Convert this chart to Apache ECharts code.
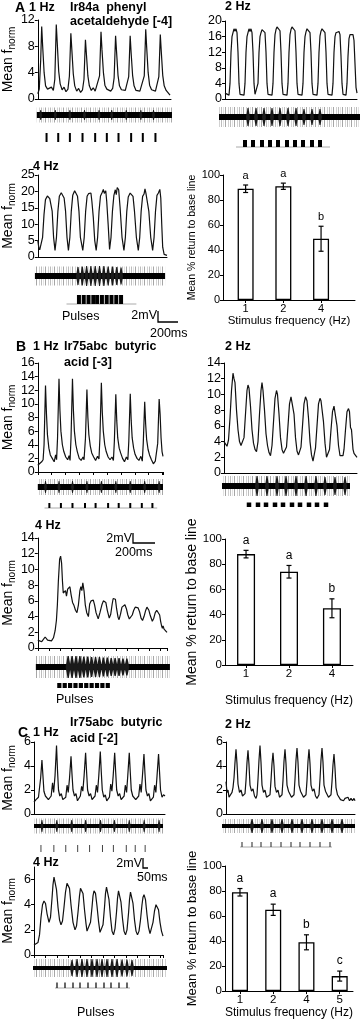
<!DOCTYPE html>
<html>
<head>
<meta charset="utf-8">
<script src="https://cdn.jsdelivr.net/npm/echarts@6/dist/echarts.min.js"></script>
<style>
  html, body { margin: 0; padding: 0; background: #fff; }
  #chart { width: 360px; height: 1020px; }
</style>
</head>
<body>
<div id="chart"></div>
<script>
// ---------- data (t = time in plot units, y = Mean f_norm) ----------

// A: Ir84a, phenyl acetaldehyde [-4]
const a1Trace = [[0,0.8],[1.5,1.5],[3,6],[4,11],[5,8],[6.5,4],[8,2],[10,1.5],[12,1.2],[14,1.8],[16,1.3],[17.5,3],[19,11.3],[20,8.5],[21.5,4.2],[23,2.3],[25,1.4],[27,1.8],[29,1.1],[31,1.5],[32.5,3.5],[34,10],[35,7.5],[36.5,3.8],[38,2],[40,1.2],[42,1.6],[44,1],[46,1.4],[47.5,3],[49,9],[50,6.8],[51.5,3.5],[53,2],[55,1.3],[57,1.7],[59,1.2],[61,1.5],[63.5,3.5],[65,10.2],[66,7.5],[67.5,4],[69,2.1],[71,1.5],[73,1.8],[75,1.2],[77,1.6],[78.5,3.2],[80,9.6],[81,7.2],[82.5,3.6],[84,2],[86,1.4],[88,1.7],[90,1.3],[92,1.5],[93.5,3.4],[95,9.6],[96,7],[97.5,3.6],[99,2],[101,1.3],[103,1.6],[105,1.2],[107,1.5],[109.5,3.5],[111,10.6],[112,7.8],[113.5,4],[115,2.1],[117,1.4],[119,1.7],[121,1.2],[123,1.5],[124.5,3.4],[126,9.8],[127,7.2],[128.5,3.6],[130,2],[132,1.3],[134,1.0],[136,0.6]];
const a1Raster = [-1, 138];
const a1Bursts = [[3,5],[18,5],[33,5],[48,5],[63,5],[76,5],[91,5],[106,5],[119,5]];
const a1Pulses = [9, 21, 33, 46, 59, 71, 83, 96, 108, 121];

const a2Trace = [[0,1.5],[2,1.1],[4,1],[5,4],[6,12],[7,16],[8,17],[9,18],[10,17.4],[11,18],[12,17],[13,12],[14,4],[15,1.2],[17,0.9],[19,1],[20,4],[21,12],[22,16],[23,17],[24,18],[25,17.3],[26,18],[27,17],[28,12],[29,4],[30,1.2],[31,0.8],[32,1],[33,4],[34,12],[35,16],[36,17],[37,17.8],[38,18],[39,17.8],[40,17],[41,12],[42,4],[43,1.2],[45,0.9],[47,1],[48,4],[49,12],[50,16.5],[51,17.8],[52,18.5],[53,18.3],[54,18.5],[55,17.5],[56,12],[57,4],[58,1.2],[60,0.8],[62,1],[63,4],[64,12],[65,16.5],[66,17.8],[67,18.5],[68,18.3],[69,18.4],[70,17.5],[71,12],[72,4],[73,1.2],[75,0.9],[77,1],[78,4],[79,12],[80,16],[81,17.2],[82,18],[83,17.5],[84,17.8],[85,17],[86,12],[87,4],[88,1.2],[90,0.8],[92,1],[93,4],[94,12],[95,16.2],[96,17.4],[97,18],[98,17.7],[99,17.8],[100,17],[101,12],[102,4],[103,1.2],[105,0.9],[107,1],[108,4],[109,12],[110,16],[111,17],[112,17.5],[113,17.2],[114,17.3],[115,16.5],[116,11],[117,4],[118,1.2],[120,0.9],[121,1],[122,4],[123,11],[124,15.5],[125,16.5],[126,17],[127,16.7],[128,16.5],[129,15],[130,9],[131,3],[132,1.5]];
const a2Raster = [-6, 135];
const a2Bursts = [[23,9],[31,9],[39,9],[47,9],[55,9],[63,9],[71,9],[79,8],[87,8],[95,8]];
const a2Pulses = [20, 28, 37, 45, 53, 62, 70, 78, 87, 95];
const a2PulseLine = [11, 105];

const a3Trace = [[0,5],[1,3],[2,2.2],[3.7,2],[5,6],[6.5,13],[8,17.5],[10,18.6],[11.5,18.5],[12.5,17.8],[13.5,18],[15,14],[16.5,6],[18,2],[19.5,6],[21,14],[22.5,18.5],[24.5,19.6],[26,19.3],[27.5,18],[29,14],[30.5,6],[32,2],[33.5,6],[35,14],[36.5,18.8],[38.5,20.2],[40,19.8],[41.5,18.5],[43,14],[44.5,6],[47,2],[48.5,6],[50,14],[51.5,18.5],[53,19.3],[54,19],[55.5,19.5],[56.5,17],[58,12],[59.5,5],[61,2],[62.5,6],[64,14],[65.5,18.6],[67,19.5],[68.5,20.6],[69.5,19.4],[71,20.2],[72,17],[73.5,10],[75,2.3],[76.5,6],[78,14],[79.5,18.8],[81,20.5],[82,19],[83,21.2],[84.5,20.5],[86,15],[88,6],[90,2],[91.5,6],[93,14],[94.5,18.3],[96.5,19.5],[98,19.6],[99.5,18.5],[101,14],[103,6],[105,2],[106.5,6],[108,14],[109.5,18.5],[111,19.2],[112,20.8],[113,19.4],[114.5,19.5],[116,14],[118,6],[120,2],[121.5,6],[123,14],[124.5,18.8],[126,19.5],[127.5,20.6],[128.5,18],[129.5,10],[130.5,3],[132,0.8],[135,0.5]];
const a3Raster = [-3, 133];
const a3Bursts = [[42,9],[46.5,9.5],[51,10],[55.5,10],[60,10],[64.5,10],[69,10],[73.5,9.5],[78,9.5],[82.5,9],[87,8.5]];
const a3Pulses = [43, 48, 53, 58, 62, 67, 72, 77, 82, 87];
const a3PulseLine = [30, 103];

const aBarLabels = ['1', '2', '4'];
const aBarValues = [89, 91, 49];
const aBarErrors = [3, 2.5, 10];
const aBarLetters = ['a', 'a', 'b'];

// B: Ir75abc, butyric acid [-3]
const b1Trace = [[0,1],[2,1.2],[4,1.5],[5.5,1.8],[6.5,4],[8,12.7],[9,8.5],[10,5.5],[11.5,3.5],[13,2.5],[15,2],[17,1.5],[18.5,2.5],[19.5,1.8],[20.5,5],[22,13.7],[23,9],[24,6],[25.5,4],[27,3],[29,2.2],[31,1.8],[32.5,2.4],[33.5,1.7],[34.5,5],[36,13.7],[37,9],[38,6],[39.5,4],[41,3],[43,2],[45,1.7],[47,2.2],[48,1.8],[49.5,5],[51,12.1],[52,8],[53,5.5],[54.5,3.8],[56,2.8],[58,2.2],[60,1.7],[62,2.3],[63.5,1.9],[64.5,5],[66,13.1],[67,8.7],[68,6],[69.5,4],[71,3],[73,2.2],[75,1.8],[77,2.2],[78.5,1.7],[79.5,4.5],[81,11.4],[82,7.5],[83,5],[84.5,3.5],[86,2.8],[88,2],[90,1.5],[92,2.2],[93.5,1.8],[94.5,4.5],[96,11.5],[97,7.5],[98,5],[99.5,3.5],[101,2.6],[103,2],[105,1.7],[107,2.3],[108.5,1.6],[109.5,4.2],[111,10.3],[112,7],[113,4.8],[114.5,3.3],[116,2.5],[118,1.8],[120,1.2],[122,1.6],[123.5,1.4],[124.5,4.2],[126,10.7],[127,8.5],[128,5],[129,3],[130,2.3]];
const b1Raster = [0, 130];
const b1Bursts = [[8,6],[22,6],[36,6],[51,6],[66,6],[81,6],[96,6],[111,6],[126,6]];
const b1Pulses = [12, 24, 36, 49, 60, 73, 84, 96, 108, 119];
const b1PulseLine = [7, 124];

const b2Trace = [[0,4],[1.5,3.8],[3,3.4],[4.5,4.2],[6,7],[7.5,10.5],[9,12.7],[10,12],[11,11.5],[12.5,8],[14,5.5],[15.5,4],[17,3.5],[18.5,3.3],[20,4.5],[21.5,7.5],[23,10.5],[24,11.2],[25,10.8],[26.5,8.5],[28,5.5],[29.5,3.8],[31,3],[32.5,2.7],[34,4],[35.5,7.5],[37,10.5],[38,11.5],[39,10.5],[40.5,8],[42,5],[43.5,3.5],[45,2.6],[46.5,2.2],[48,3.5],[49.5,6.5],[51,9.5],[52.5,10.5],[53.5,10],[55,7.5],[56.5,4.5],[58,3],[59.5,2.5],[61,2.4],[62.5,3.3],[64,6],[65.5,8.8],[67,9.7],[68.5,9.8],[70,7.5],[71.5,4.5],[73,2.8],[74.5,2.3],[76,2.5],[77,3.3],[78.5,6],[80,8.8],[81.5,9.7],[83,9.2],[84.5,7],[86,4],[87.5,2.3],[89,1.5],[90.5,1.7],[91.5,3.2],[93,6],[94.5,8.8],[96,9.5],[97,9.2],[98,9.3],[99.5,6.5],[101,3.8],[102.5,2],[104,1.8],[105.5,3],[107,5.5],[108.5,7.8],[110,8.5],[111.5,8.3],[113,6],[114.5,3.5],[116,2.2],[117.5,2],[119,2.2],[120,3],[121.5,5.5],[123,7.8],[124.5,8.2],[125.5,7.8],[126.5,5.8],[127.5,5.5],[129,3],[130,2.5],[131.5,2.5],[133,2]];
const b2Raster = [-2, 126];
const b2Bursts = [[33,10],[43,10],[53,10],[62,10],[72,10],[82,10],[92,10],[101,9],[111,9],[121,9]];
const b2Pulses = [25, 34, 42, 51, 59, 68, 76, 85, 93, 102];

const b3Trace = [[0,1],[2,0.9],[4,0.8],[6,1],[7.5,1.4],[8.5,1.5],[10,1],[12,0.8],[14,0.9],[16,1.3],[17.7,2.2],[19,3.5],[20,5.5],[21,8.5],[22.3,11.3],[23.3,11.7],[24.3,10.8],[25.2,8.5],[26,7],[27.3,6.8],[28.3,7.3],[29.3,6.6],[30.5,7.5],[31.5,7.3],[32.8,7.8],[34,6.8],[35.5,5.8],[37,5.4],[38.5,4.8],[40,4.5],[41.5,5.5],[43,7.3],[44,7.8],[45,7.3],[46,8.3],[47.3,7.2],[48.5,5.5],[50,4.5],[51.7,4],[53,5.6],[54.5,6],[55.5,5.8],[56.7,6.1],[58,5.5],[59.5,4.5],[61.7,3.7],[63.5,4.5],[65.5,5.5],[67,6],[68,6.2],[69.5,5.8],[71,4.8],[73,3.8],[74.5,4.3],[76,5.6],[77,6.3],[78,6.5],[79.3,6.2],[80.5,5],[82,3.9],[83,3.6],[84.5,4.3],[86,5.2],[87.5,5.3],[89,5.5],[90.5,5],[92,4.2],[93.5,3.7],[95,3.5],[96.5,4.2],[98,4.8],[99.5,5.2],[101,5.3],[102.5,5.1],[104,4.6],[105.5,3.8],[107,3.5],[108.5,4],[110,4.7],[111.5,5.2],[112.5,5.1],[113.5,4.8],[115,4.1],[117,3.4],[118.5,3.8],[120,4.5],[121.5,4.8],[123,4.7],[124.5,4.2],[125.5,3.4],[126.5,2.8],[127.3,2.5],[128,2.8],[129,2.4],[130.5,2.3],[132,2]];
const b3Raster = [-2, 135];
const b3Bursts = [[31,11],[35,11],[39,11],[43,11],[47,10.5],[51,10.5],[55,10],[59,10],[63,10],[67,9.5],[71,9.5],[75,9],[79,9],[83,9],[87,8.5],[91,8.5]];
const b3Pulses = [22, 27.5, 33, 38.5, 44, 49.5, 55, 60.5, 66, 71.5];

const bBarLabels = ['1', '2', '4'];
const bBarValues = [88, 74, 45];
const bBarErrors = [3, 5, 7.5];
const bBarLetters = ['a', 'a', 'b'];

// C: Ir75abc, butyric acid [-2]
const c1Trace = [[0,1],[1,0.9],[2,1.2],[3,1.1],[4.5,1.4],[5.5,1.3],[6.7,3],[8,4.5],[9,3.2],[10,1.9],[11.5,1.5],[13,1.6],[14.5,1.2],[16,1.3],[17.3,1.5],[18.7,2.6],[19.8,1.8],[21.2,3.2],[22.7,5.7],[23.7,3.6],[24.7,2],[26,1.5],[27.5,1.7],[29,1.2],[30.5,1.3],[32,1.4],[33.3,2.4],[34.5,1.8],[35.8,3],[37.3,4.8],[38.3,3.3],[39.3,2],[40.8,1.5],[42.3,1.7],[43.8,1.1],[45.3,1.2],[46.7,1.5],[48,2.3],[49.2,1.9],[50.5,3.2],[52,5.1],[53,3.5],[54,2],[55.5,1.5],[57,1.7],[58.5,1.2],[60,1.3],[61.5,1.5],[62.8,2.4],[64,1.8],[65.3,3.2],[66.8,5.2],[67.8,3.5],[68.8,2],[70.3,1.4],[71.8,1.6],[73.3,1.1],[74.8,1.2],[76,1.4],[77.3,2.5],[78.5,1.9],[79.8,3.2],[81.3,5.1],[82.3,3.5],[83.3,2],[84.8,1.5],[86.3,1.7],[87.8,1.2],[89.3,1.3],[90.8,1.5],[92,2.4],[93.3,1.8],[94.5,3.2],[96,5.1],[97,3.5],[98,2],[99.5,1.5],[101,1.6],[102.5,1.2],[104,1.3],[105.5,1.5],[106.8,2.5],[108,1.8],[109.3,3.2],[110.8,5],[111.8,3.4],[112.8,2],[114.3,1.5],[115.8,1.7],[117.3,1.1],[118.8,1.2],[120.3,1.4],[121.5,2.4],[122.8,1.8],[124,3.2],[125.5,5],[126.5,3.5],[127.5,2],[129,1.4],[130.5,1.6],[132,1.5]];
const c1Raster = [0, 130];
const c1Bursts = [[8,6],[23,6],[38,6],[52,6],[67,6],[81,6],[96,6],[111,6],[126,6]];
const c1Pulses = [7, 20, 32, 44, 56, 69, 80, 93, 102, 112];

const c2Trace = [[0,2.7],[1,1.8],[2,2],[3,1.4],[4.5,1.5],[6,1.8],[7,2.2],[8,3],[9,4.3],[10,5.4],[11,4.2],[12,2.5],[13.5,1.8],[15,2],[16.5,1.5],[18,1.4],[19,1.7],[20,2.8],[21,4.3],[22,5.3],[23,4.1],[24,2.4],[25.5,1.9],[27,2.1],[28.5,1.5],[30,1.3],[31,1.6],[32,2.9],[33,4.5],[34,5.7],[35,4.3],[36,2.4],[37.5,1.8],[39,2],[40.5,1.4],[42,1.3],[44,1.6],[45,2.8],[46,4.2],[47,5.1],[48,4],[49,2.3],[50.5,1.8],[52,2],[53.5,1.4],[55,1.3],[56,1.6],[57,2.8],[58,4.4],[59,5.4],[60,4.2],[61,2.4],[62.5,1.9],[64,2],[65.5,1.4],[67,1.3],[68,1.6],[69,2.9],[70,4.5],[71,5.5],[72,4.3],[73,2.4],[74.5,1.9],[76,2],[77.5,1.4],[79,1.3],[80,1.6],[81,2.8],[82,4.4],[83,5.4],[84,4.2],[85,2.4],[86.5,1.9],[88,2.1],[89.5,1.5],[91,1.3],[93,1.6],[94,2.9],[95,4.5],[96,5.5],[97,4.3],[98,2.4],[99.5,1.9],[101,2],[102.5,1.4],[104,1.3],[105,1.6],[106,2.7],[107,4.1],[108,5],[109,3.8],[110,2.2],[111.5,1.6],[113,1.5],[114.5,1.2],[116,1.3],[117.5,1.1],[119,1.3],[120.5,1.2],[122,1.4],[123.5,1.1],[125,1.3],[126.5,1.1],[128,1.3],[129,1.1]];
const c2Raster = [-4, 129];
const c2Bursts = [[26,7],[36,7],[46,7],[56,7],[66,7],[76,7],[86,7],[96,7],[106,7],[116,7]];
const c2Pulses = [16, 26, 35, 45, 55, 65, 74, 84, 94, 104];
const c2PulseLine = [14, 106];

const c3Trace = [[0,0.8],[2,0.9],[4,1.0],[5.5,1.6],[7,3],[8.5,4],[10,4.3],[11.5,4.1],[13,3.3],[15,2.6],[16.5,3],[18,4.5],[19,5.6],[20,6.2],[21,6.1],[22.5,5.2],[24,3.8],[25.5,2.8],[27,2.4],[28.5,2.7],[30,3.8],[31.5,5],[33,5.7],[34,5.8],[35.5,5.3],[37,4],[39,2.6],[41,2],[42.5,2.3],[44,3.4],[45.5,4.7],[46.5,5.3],[47.5,5.4],[49,4.9],[50.5,3.6],[52,2.5],[53,1.9],[55,1.9],[56.5,2.6],[58,3.8],[59,4.7],[60,5.1],[61.5,4.9],[63,3.9],[64.5,2.7],[66,1.8],[67.5,1.7],[69,2.4],[70.5,3.8],[71.5,4.9],[72.5,5.4],[73.5,5.3],[75,4.4],[76.5,3],[78,1.9],[79.5,1.6],[81,2.1],[82.5,3.4],[83.5,4.5],[84.5,5.1],[85.5,5],[87,4.2],[88.5,2.9],[90,1.9],[91.5,1.6],[93,2],[94.5,3.3],[95.5,4.4],[96.5,5],[97.5,4.9],[99,4.1],[100.5,2.8],[102,1.9],[103.5,1.6],[105,1.9],[106.5,2.8],[108,4],[109,4.6],[110,4.8],[111.5,4.4],[113,3.2],[114.5,2.2],[116,1.7],[117.5,1.8],[119,2.6],[120.5,3.5],[122,4],[123,4.1],[124.5,3.6],[126,2.6],[127.5,1.9],[129,1.5]];
const c3Raster = [-1, 133];
const c3Bursts = [[38,8],[43,9],[48,9],[53,9],[58,9],[63,9],[68,9],[73,9],[78,9],[83,9],[88,8.5],[93,8.5],[98,8]];
const c3Pulses = [23, 31, 39, 46, 54, 62, 70, 77, 85, 93];
const c3PulseLine = [21, 96];

const cBarLabels = ['1', '2', '4', '5'];
const cBarValues = [79, 65, 39, 12];
const cBarErrors = [3, 4.5, 6, 4];
const cBarLetters = ['a', 'a', 'b', 'c'];

// ---------- chart ----------
const FONT = '"Liberation Sans", Arial, Helvetica, sans-serif';
const chart = echarts.init(document.getElementById('chart'));

const grid = [], xAxis = [], yAxis = [], series = [];

// light grey "hair" texture for the extracellular recordings
const hair = document.createElement('canvas');
hair.width = 9; hair.height = 2;
const hc = hair.getContext('2d');
[['#a6a6a6', 0], ['#d2d2d2', 3], ['#bdbdbd', 5], ['#e2e2e2', 7]].forEach(([c, x]) => {
  hc.fillStyle = c;
  hc.fillRect(x, 0, 1, 2);
});
const hairFill = { image: hair, repeat: 'repeat' };

function tracePanel(p) {
  const i = grid.length;
  grid.push({ left: p.left, top: p.top, width: p.width, height: p.height });
  xAxis.push({
    gridIndex: i, type: 'value', min: 0, max: p.width,
    interval: p.xTick || p.width,
    axisLine: { lineStyle: { color: '#000', width: 1 } },
    axisTick: { show: !!p.xTick, length: 3, lineStyle: { color: '#000' } },
    axisLabel: { show: false },
    splitLine: { show: false }
  });
  yAxis.push({
    gridIndex: i, type: 'value', min: 0, max: p.yMax, interval: p.yStep,
    name: p.yName ? '{m|Mean f}{s|norm}' : '',
    nameLocation: 'middle', nameRotate: 90, nameGap: p.nameGap || 16,
    nameTextStyle: {
      color: '#000',
      rich: {
        m: { fontSize: 14, fontFamily: FONT, color: '#000' },
        s: { fontSize: 10, fontFamily: FONT, color: '#000', padding: [8, 0, 0, 0] }
      }
    },
    axisLine: { show: true, lineStyle: { color: '#000', width: 1 } },
    axisTick: { show: true, length: 3, lineStyle: { color: '#000' } },
    axisLabel: { fontSize: 12.5, color: '#000', fontFamily: FONT, margin: 3, showMaxLabel: p.yMax % p.yStep === 0 },
    splitLine: { show: false }
  });
  series.push({
    type: 'line', xAxisIndex: i, yAxisIndex: i, data: p.trace,
    symbol: 'none', lineStyle: { color: '#111', width: 1.2 }, z: 3
  });
  // recording band
  series.push({
    type: 'custom', xAxisIndex: i, yAxisIndex: i, data: [p.raster],
    renderItem: (params, api) => {
      const x0 = api.coord([api.value(0), 0])[0];
      const x1 = api.coord([api.value(1), 0])[0];
      return {
        type: 'group', children: [
          { type: 'rect', shape: { x: x0, y: p.rasterY - p.fuzz, width: x1 - x0, height: p.fuzz * 2 }, style: { fill: hairFill } },
          { type: 'rect', shape: { x: x0, y: p.rasterY - p.fuzz * 0.55, width: x1 - x0, height: p.fuzz * 1.1 }, style: { fill: hairFill, opacity: 0.8 } },
          { type: 'rect', shape: { x: x0, y: p.rasterY - p.core, width: x1 - x0, height: p.core * 2 }, style: { fill: '#000' } }
        ]
      };
    }
  });
  // spike bursts
  series.push({
    type: 'custom', xAxisIndex: i, yAxisIndex: i, data: p.bursts,
    renderItem: (params, api) => {
      const x = api.coord([api.value(0), 0])[0];
      const a = api.value(1);
      const w = p.burstW;
      return {
        type: 'polygon',
        shape: { points: [[x - w, p.rasterY], [x - w * 0.25, p.rasterY - a], [x + w * 0.25, p.rasterY - a], [x + w, p.rasterY], [x + w * 0.25, p.rasterY + a], [x - w * 0.25, p.rasterY + a]] },
        style: { fill: '#1a1a1a' }
      };
    }
  });
  // stimulus pulses
  if (p.pulseLine) {
    series.push({
      type: 'custom', xAxisIndex: i, yAxisIndex: i, data: [p.pulseLine],
      renderItem: (params, api) => ({
        type: 'line',
        shape: { x1: api.coord([api.value(0), 0])[0], y1: p.pulseY, x2: api.coord([api.value(1), 0])[0], y2: p.pulseY },
        style: { stroke: '#aaa', lineWidth: 1 }
      })
    });
  }
  series.push({
    type: 'custom', xAxisIndex: i, yAxisIndex: i, data: p.pulses.map(t => [t, 0]),
    renderItem: (params, api) => {
      const x = api.coord([api.value(0), 0])[0];
      return {
        type: 'rect',
        shape: { x: x - p.pulseW / 2, y: p.pulseY - p.pulseH, width: p.pulseW, height: p.pulseH },
        style: { fill: p.pulseColor || '#000' }
      };
    }
  });
}

function barPanel(p) {
  const i = grid.length;
  const ticks = p.labels.map((l, k) => k + 1);
  grid.push({ left: p.left, top: p.top, width: p.width, height: p.height });
  xAxis.push({
    gridIndex: i, type: 'value', min: p.xMin, max: p.xMax,
    name: 'Stimulus frequency (Hz)', nameLocation: 'middle', nameGap: p.xNameGap,
    nameTextStyle: { fontSize: p.xNameSize, color: '#000', fontFamily: FONT },
    axisLine: { lineStyle: { color: '#000', width: 1 } },
    axisTick: { customValues: ticks, length: 3, lineStyle: { color: '#000' } },
    axisLabel: { customValues: ticks, formatter: v => p.labels[v - 1], fontSize: p.tickSize, color: '#000', fontFamily: FONT, margin: 3 },
    splitLine: { show: false }
  });
  yAxis.push({
    gridIndex: i, type: 'value', min: 0, max: 100, interval: 20,
    name: 'Mean % return to base line', nameLocation: 'middle', nameRotate: 90, nameGap: p.yNameGap,
    nameTextStyle: { fontSize: p.yNameSize, color: '#000', fontFamily: FONT },
    axisLine: { show: true, lineStyle: { color: '#000', width: 1 } },
    axisTick: { length: 3, lineStyle: { color: '#000' } },
    axisLabel: { fontSize: p.tickSize, color: '#000', fontFamily: FONT, margin: 3 },
    splitLine: { show: false }
  });
  series.push({
    type: 'bar', xAxisIndex: i, yAxisIndex: i, barWidth: p.barWidth,
    data: p.values.map((v, k) => [k + 1, v]),
    itemStyle: { color: '#fff', borderColor: '#000', borderWidth: 1.3 }
  });
  series.push({
    type: 'custom', xAxisIndex: i, yAxisIndex: i, z: 5,
    data: p.values.map((v, k) => [k + 1, v, p.errors[k]]),
    renderItem: (params, api) => {
      const v = api.value(1), e = api.value(2);
      const top = api.coord([api.value(0), v + e]);
      const bot = api.coord([api.value(0), v - e]);
      const x = top[0];
      return {
        type: 'group', children: [
          { type: 'line', shape: { x1: x, y1: top[1], x2: x, y2: bot[1] }, style: { stroke: '#000', lineWidth: 1.2 } },
          { type: 'line', shape: { x1: x - 2.5, y1: top[1], x2: x + 2.5, y2: top[1] }, style: { stroke: '#000', lineWidth: 1.2 } },
          { type: 'line', shape: { x1: x - 2.5, y1: bot[1], x2: x + 2.5, y2: bot[1] }, style: { stroke: '#000', lineWidth: 1.2 } },
          { type: 'text', style: { text: p.letters[params.dataIndex], x: x, y: top[1] - 4, align: 'center', verticalAlign: 'bottom', font: p.letterSize + 'px ' + FONT, fill: '#000' } }
        ]
      };
    }
  });
}

// panel A
tracePanel({ left: 34, top: 20, width: 137, height: 79, yMax: 12, yStep: 4, yName: true, nameGap: 16,
  trace: a1Trace, raster: a1Raster, bursts: a1Bursts, pulses: a1Pulses,
  rasterY: 115, fuzz: 7.5, core: 3, burstW: 1.5, pulseY: 142, pulseH: 9, pulseW: 2 });
tracePanel({ left: 225, top: 21, width: 132, height: 78, yMax: 20, yStep: 4,
  trace: a2Trace, raster: a2Raster, bursts: a2Bursts, pulses: a2Pulses, pulseLine: a2PulseLine,
  rasterY: 117, fuzz: 10, core: 3, burstW: 2, pulseY: 147, pulseH: 7, pulseW: 4 });
tracePanel({ left: 32, top: 175, width: 135, height: 82, yMax: 25, yStep: 5, yName: true, nameGap: 15,
  trace: a3Trace, raster: a3Raster, bursts: a3Bursts, pulses: a3Pulses, pulseLine: a3PulseLine,
  rasterY: 276, fuzz: 9.5, core: 3, burstW: 2, pulseY: 304, pulseH: 9, pulseW: 4 });
barPanel({ left: 223, top: 175, width: 132, height: 125, xMin: 0.4, xMax: 3.9,
  labels: aBarLabels, values: aBarValues, errors: aBarErrors, letters: aBarLetters,
  barWidth: 16, tickSize: 11, letterSize: 11, yNameSize: 10.5, yNameGap: 19, xNameSize: 11.5, xNameGap: 11 });

// panel B
tracePanel({ left: 33, top: 363, width: 130, height: 109, yMax: 16, yStep: 2, yName: true, nameGap: 16, xTick: 14.4,
  trace: b1Trace, raster: b1Raster, bursts: b1Bursts, pulses: b1Pulses, pulseLine: b1PulseLine,
  rasterY: 487, fuzz: 8, core: 3, burstW: 1.5, pulseY: 508, pulseH: 5, pulseW: 2 });
tracePanel({ left: 224, top: 363, width: 133, height: 110, yMax: 14, yStep: 2,
  trace: b2Trace, raster: b2Raster, bursts: b2Bursts, pulses: b2Pulses,
  rasterY: 486, fuzz: 10, core: 3, burstW: 2, pulseY: 507, pulseH: 4.5, pulseW: 4.5 });
tracePanel({ left: 35, top: 538, width: 132, height: 110, yMax: 14, yStep: 2, yName: true, nameGap: 17, xTick: 11.4,
  trace: b3Trace, raster: b3Raster, bursts: b3Bursts, pulses: b3Pulses,
  rasterY: 667, fuzz: 11, core: 3, burstW: 2.5, pulseY: 688, pulseH: 5, pulseW: 4.2 });
barPanel({ left: 225, top: 539, width: 128, height: 126, xMin: 0.51, xMax: 3.49,
  labels: bBarLabels, values: bBarValues, errors: bBarErrors, letters: bBarLetters,
  barWidth: 18, tickSize: 11.5, letterSize: 12, yNameSize: 14, yNameGap: 20, xNameSize: 12, xNameGap: 30 });

// panel C
tracePanel({ left: 33, top: 742, width: 132, height: 72, yMax: 6, yStep: 2, yName: true, nameGap: 17,
  trace: c1Trace, raster: c1Raster, bursts: c1Bursts, pulses: c1Pulses,
  rasterY: 826, fuzz: 7.5, core: 2, burstW: 1.5, pulseY: 852, pulseH: 7, pulseW: 1, pulseColor: '#444' });
tracePanel({ left: 226, top: 742, width: 129, height: 72, yMax: 6, yStep: 2,
  trace: c2Trace, raster: c2Raster, bursts: c2Bursts, pulses: c2Pulses, pulseLine: c2PulseLine,
  rasterY: 826, fuzz: 7, core: 2, burstW: 2, pulseY: 847, pulseH: 5, pulseW: 1, pulseColor: '#222' });
tracePanel({ left: 34, top: 867, width: 129, height: 88, yMax: 7, yStep: 2, yName: true, nameGap: 17, xTick: 11.5,
  trace: c3Trace, raster: c3Raster, bursts: c3Bursts, pulses: c3Pulses, pulseLine: c3PulseLine,
  rasterY: 968, fuzz: 9, core: 2, burstW: 2, pulseY: 988, pulseH: 5.5, pulseW: 1.2 });
barPanel({ left: 225, top: 866, width: 128, height: 126, xMin: 0.55, xMax: 4.4,
  labels: cBarLabels, values: cBarValues, errors: cBarErrors, letters: cBarLetters,
  barWidth: 16, tickSize: 11.5, letterSize: 12, yNameSize: 13, yNameGap: 19, xNameSize: 12, xNameGap: 15 });

// labels, titles and scale bars
function txt(text, x, y, size, weight, align) {
  return { type: 'text', x: x, y: y, silent: true,
    style: { text: text, font: (weight || 'normal') + ' ' + size + 'px ' + FONT, fill: '#000', align: align || 'left', verticalAlign: 'middle' } };
}
function bar(points) {
  return { type: 'polyline', silent: true, shape: { points: points }, style: { stroke: '#000', lineWidth: 1.3, fill: null } };
}
const graphic = [
  txt('A', 15, 8, 14, 'bold'), txt('1 Hz', 29, 8, 12.5, 'bold'),
  txt('Ir84a  phenyl', 70, 8, 12.5, 'bold'), txt('acetaldehyde [-4]', 70, 22, 12.5, 'bold'),
  txt('2 Hz', 225, 7, 12.5, 'bold'), txt('4 Hz', 33, 167, 12.5, 'bold'),
  txt('Pulses', 62, 317, 12.5), txt('2mV', 157, 316, 12.5, 'normal', 'right'), txt('200ms', 150, 334, 12.5),
  bar([[158, 311], [158, 322], [178, 322]]),

  txt('B', 16, 347, 14, 'bold'), txt('1 Hz', 33, 347, 12.5, 'bold'),
  txt('Ir75abc  butyric', 64, 347, 12.5, 'bold'), txt('acid [-3]', 64, 363, 12.5, 'bold'),
  txt('2 Hz', 225, 347, 12.5, 'bold'), txt('4 Hz', 35, 526, 12.5, 'bold'),
  txt('2mV', 132, 539, 12.5, 'normal', 'right'), txt('200ms', 115, 553, 12.5),
  bar([[133, 533], [133, 543], [155, 543]]),
  txt('Pulses', 56, 700, 12.5),

  txt('C', 18, 733, 14, 'bold'), txt('1 Hz', 33, 733, 12.5, 'bold'),
  txt('Ir75abc  butyric', 70, 723, 12.5, 'bold'), txt('acid [-2]', 70, 739, 12.5, 'bold'),
  txt('2 Hz', 225, 725, 12.5, 'bold'), txt('4 Hz', 33, 863, 12.5, 'bold'),
  txt('2mV', 142, 864, 12.5, 'normal', 'right'), txt('50ms', 137, 878, 12.5),
  bar([[143, 858], [143, 868], [148, 868]]),
  txt('Pulses', 77, 1013, 12.5)
];

chart.setOption({
  animation: false,
  backgroundColor: '#fff',
  textStyle: { fontFamily: FONT },
  grid: grid,
  xAxis: xAxis,
  yAxis: yAxis,
  series: series,
  graphic: graphic
});
</script>
</body>
</html>
